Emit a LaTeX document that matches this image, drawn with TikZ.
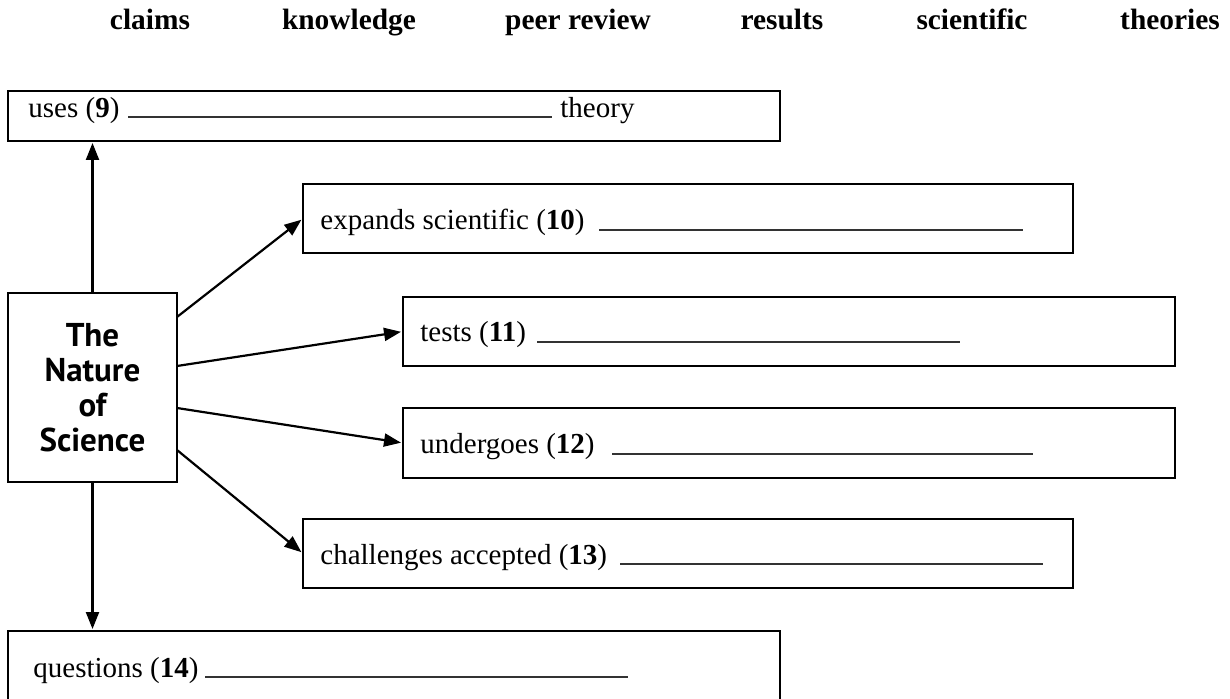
\documentclass[tikz,border=0pt]{standalone}
\usepackage{fontspec}
\setmainfont{Liberation Serif}
\newfontfamily\ptsans{PT Sans}
\usetikzlibrary{arrows.meta}
\begin{document}
\begin{tikzpicture}[x=0.5pt,y=-0.5pt,
  box/.style={draw, line width=1.2pt, inner sep=0pt, outer sep=0pt},
  lbl/.style={anchor=base west, inner sep=0pt, font=\fontsize{14.5}{17}\selectfont},
  word/.style={anchor=base, inner sep=0pt, font=\fontsize{14.7}{17}\selectfont\bfseries},
  blank/.style={line width=0.6pt, draw=black!80},
  arr/.style={line width=1.1pt, -{Triangle[length=8.5pt,width=6.5pt]}, shorten >=1pt}
]
\useasboundingbox (0,0) rectangle (1230,699);

% word bank
\node[word] (w1) at (150,30) {claims};
\node[word] (w2) at (349,30) {knowledge};
\node[word] (w3) at (578,30) {peer review};
\node[word] (w4) at (782,30) {results};
\node[word] (w5) at (972,30) {scientific};
\node[word] (w6) at (1170,30) {theories};

% boxes
\node[box, minimum width=386pt, minimum height=25pt] (b9) at (394,116) {};
\node[box, minimum width=385pt, minimum height=34.5pt] (b10) at (688,218.5) {};
\node[box, minimum width=386pt, minimum height=34.5pt] (b11) at (789,331.5) {};
\node[box, minimum width=386pt, minimum height=35pt] (b12) at (789,443) {};
\node[box, minimum width=385pt, minimum height=34.5pt] (b13) at (688,553.5) {};
\node[box, minimum width=386pt, minimum height=37pt] (b14) at (394,668) {};
\node[box, minimum width=84.5pt, minimum height=94.5pt, align=center,
      font=\fontsize{16.5}{17.4}\selectfont\ptsans\bfseries] (c) at (92.5,387.5)
      {The\\Nature\\of\\Science};

% texts
\node[lbl] (t9) at (28,118) {uses (\textbf{9})};
\node[lbl] (t9b) at (560,118) {theory};
\node[lbl] (t10) at (320,230) {expands scientific (\textbf{10})};
\node[lbl] (t11) at (420,342) {tests (\textbf{11})};
\node[lbl] (t12) at (420,454) {undergoes (\textbf{12})};
\node[lbl] (t13) at (320,564) {challenges accepted (\textbf{13})};
\node[lbl] (t14) at (33,677) {questions (\textbf{14})};

% blanks
\draw[blank] (128,117) -- (552,117);
\draw[blank] (599,230) -- (1023,230);
\draw[blank] (537,342) -- (960,342);
\draw[blank] (612,454) -- (1033,454);
\draw[blank] (620,564) -- (1043,564);
\draw[blank] (205,677) -- (628,677);

% connectors
\draw[arr] (c.north) -- (c.north |- b9.south);
\draw[arr] (c.south) -- (c.south |- b14.north);
\draw[arr] ([yshift=35.25pt]c.east) -- (b10.west);
\draw[arr] ([yshift=10.75pt]c.east) -- (b11.west);
\draw[arr] ([yshift=-10.25pt]c.east) -- (b12.west);
\draw[arr] ([yshift=-31.25pt]c.east) -- (b13.west);
\end{tikzpicture}
\end{document}
